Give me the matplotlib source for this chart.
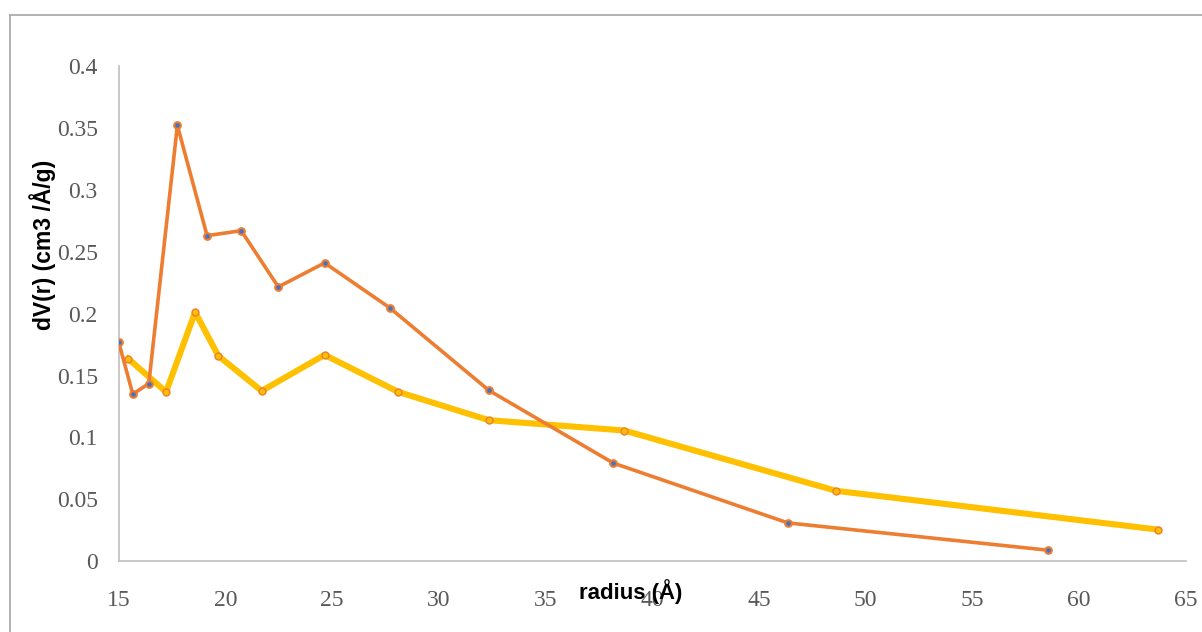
import matplotlib.pyplot as plt
from matplotlib.lines import Line2D

# pore size distribution
radius_a = [15.0, 15.66, 16.41, 17.75, 19.14, 20.74, 22.48, 24.65, 27.71, 32.35, 38.18, 46.36, 58.53]
dv_a = [0.177, 0.135, 0.1435, 0.352, 0.263, 0.267, 0.2216, 0.241, 0.2046, 0.138, 0.0793, 0.031, 0.009]

radius_b = [15.44, 17.22, 18.58, 19.67, 21.70, 24.65, 28.1, 32.34, 38.7, 48.62, 63.7]
dv_b = [0.1637, 0.1368, 0.2012, 0.1659, 0.1376, 0.1667, 0.1368, 0.114, 0.1056, 0.0569, 0.0256]

x_ticks = [15, 20, 25, 30, 35, 40, 45, 50, 55, 60, 65]
y_ticks = [0, 0.05, 0.1, 0.15, 0.2, 0.25, 0.3, 0.35, 0.4]
y_tick_labels = ["0", "0.05", "0.1", "0.15", "0.2", "0.25", "0.3", "0.35", "0.4"]

W, H = 1202, 632
fig = plt.figure(figsize=(W / 100, H / 100), dpi=100)
ax = fig.add_axes([118.7 / W, 1 - 561.3 / H, (1185.7 - 118.7) / W, (561.3 - 66) / H])

ax.plot(radius_b, dv_b, color="#FFC000", lw=4.4, marker="o", ms=5,
        mfc="#FFC000", mec="#ED7D31", mew=1.0, zorder=2, solid_joinstyle="round")
ax.plot(radius_a, dv_a, color="#ED7D31", lw=2.6, marker="o", ms=4.8,
        mfc="#4472C4", mec="#ED7D31", mew=1.5, zorder=3, solid_joinstyle="round")

ax.set_xlim(15, 65)
ax.set_ylim(0, 0.4)
ax.set_xticks(x_ticks)
ax.set_yticks(y_ticks)
ax.set_yticklabels(y_tick_labels)

for s in ["top", "right"]:
    ax.spines[s].set_visible(False)
for s in ["left", "bottom"]:
    ax.spines[s].set_color("#BFBFBF")
    ax.spines[s].set_linewidth(1.2)

ax.tick_params(length=0, labelsize=17, labelcolor="#595959")
ax.tick_params(axis="x", pad=21)
ax.tick_params(axis="y", pad=15)
for lab in ax.get_xticklabels() + ax.get_yticklabels():
    lab.set_family("Liberation Serif")

fig.text(631 / W, 1 - 592 / H, "radius (Å)", ha="center", va="center",
         fontsize=16, fontweight="bold", family="Liberation Sans")
fig.text(43 / W, 1 - 245 / H, "dV(r) (cm3 /Å/g)", ha="center", va="center",
         rotation=90, fontsize=16.5, fontweight="bold", family="Liberation Sans")

# outer chart border (top and left edges are visible)
fig.add_artist(Line2D([10 / W, 10 / W], [0, 1 - 15 / H], color="#A6A6A6", lw=1.2))
fig.add_artist(Line2D([10 / W, 1], [1 - 15 / H, 1 - 15 / H], color="#A6A6A6", lw=1.2))

fig.savefig("out.png", dpi=100)
